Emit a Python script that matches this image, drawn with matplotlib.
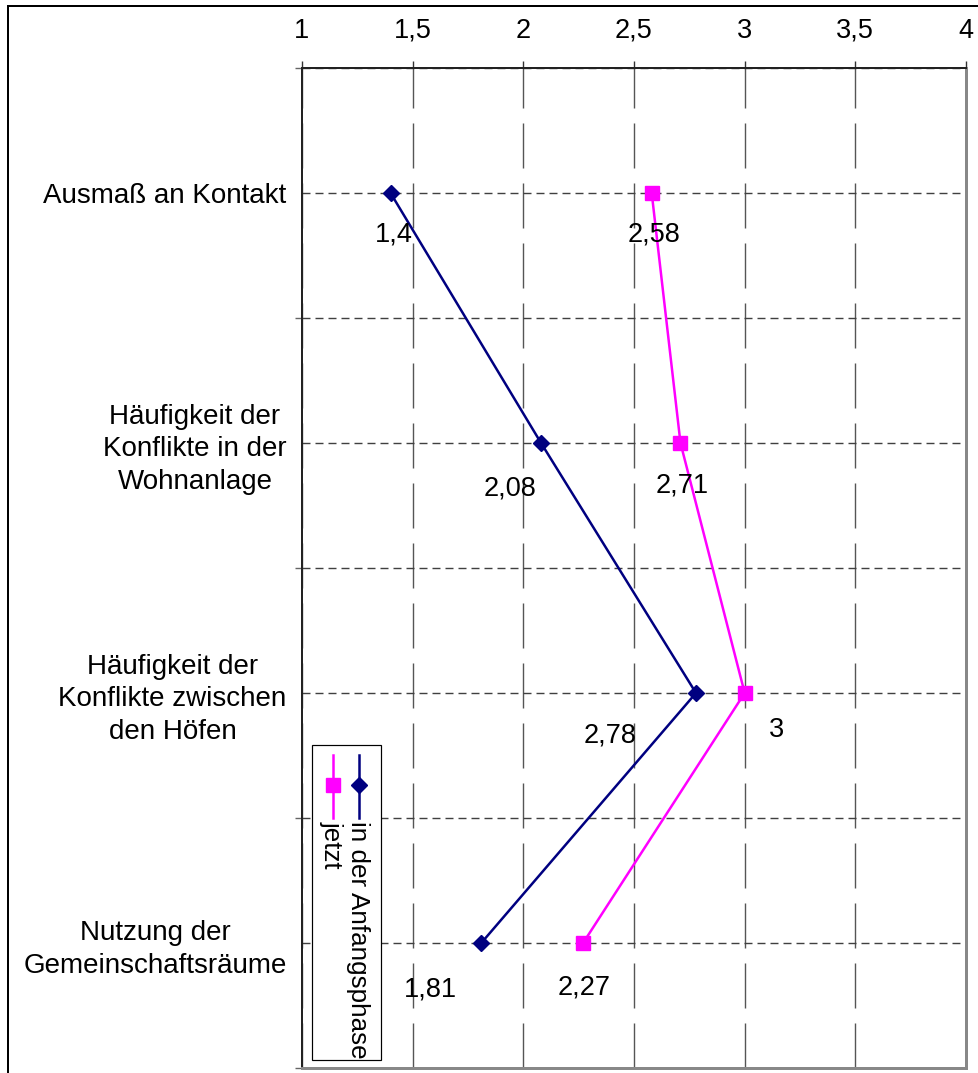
import matplotlib
matplotlib.use("Agg")
import matplotlib.pyplot as plt
from matplotlib.lines import Line2D
from matplotlib.patches import Rectangle

# --- data -------------------------------------------------------------
categories = [
    "Ausmaß an Kontakt",
    "Häufigkeit der\nKonflikte in der\nWohnanlage",
    "Häufigkeit der\nKonflikte zwischen\nden Höfen",
    "Nutzung der\nGemeinschaftsräume",
]
anfang_values = [1.4, 2.08, 2.78, 1.81]
jetzt_values = [2.58, 2.71, 3.0, 2.27]
series_names = ["in der Anfangsphase", "jetzt"]
x_ticks = [1, 1.5, 2, 2.5, 3, 3.5, 4]

# label offsets from each point, in pixels (dx right, dy down)
anfang_offsets = [(3, 49), (-31, 53), (-86, 49), (-51, 54)]
jetzt_offsets = [(2, 49), (2, 50), (32, 44), (1, 52)]

# --- style ------------------------------------------------------------
W, H, DPI = 979, 1073, 100
PX = 72.0 / DPI  # points per pixel
plt.rcParams["font.family"] = ["Liberation Sans", "DejaVu Sans"]
plt.rcParams["lines.scale_dashes"] = False

NAVY = "#000080"
MAGENTA = "#FF00FF"
FS = 19.5
FS_CAT = 20.0
FS_LEG = 18.7

fig = plt.figure(figsize=(W / DPI, H / DPI), dpi=DPI)
ax = fig.add_axes([302 / W, 1 - 1068 / H, (966 - 302) / W, (1068 - 68) / H])

ypos = list(range(len(categories)))

ax.plot(anfang_values, ypos, color=NAVY, lw=1.8, marker="D", ms=8.5,
        mfc=NAVY, mec=NAVY, zorder=3)
ax.plot(jetzt_values, ypos, color=MAGENTA, lw=1.8, marker="s", ms=10,
        mfc=MAGENTA, mec=MAGENTA, zorder=3)


def fmt(v):
    s = f"{v:g}"
    return s.replace(".", ",")


for vals, offs in ((anfang_values, anfang_offsets), (jetzt_values, jetzt_offsets)):
    for v, y, (dx, dy) in zip(vals, ypos, offs):
        ax.annotate(fmt(v), (v, y), xytext=(dx * PX, -dy * PX),
                    textcoords="offset points", ha="center", va="baseline",
                    fontsize=FS, color="black", zorder=4)

# axes limits: categories run top to bottom
ax.set_xlim(1, 4)
ax.set_ylim(len(categories) - 0.5, -0.5)

# value axis on top
ax.xaxis.tick_top()
ax.set_xticks(x_ticks, [fmt(t) for t in x_ticks])
ax.tick_params(axis="x", which="major", direction="out", length=7 * PX,
               width=1, color="#333333", pad=12.5, labelsize=FS)

# category axis: boundary ticks + centred labels
ax.set_yticks([i - 0.5 for i in range(len(categories) + 1)])
ax.set_yticklabels([])
ax.set_yticks(ypos, categories, minor=True)
ax.tick_params(axis="y", which="major", direction="out", length=7 * PX,
               width=1, color="#666666")
ax.tick_params(axis="y", which="minor", length=0, pad=11, labelsize=FS_CAT)
for lbl in ax.get_yticklabels(minor=True):
    lbl.set_multialignment("center")
    lbl.set_linespacing(1.33)

# grid lines
ax.set_axisbelow(True)
ax.grid(axis="x", which="major", color="#555555", lw=1 * PX * 1.4,
        dashes=(45 * PX, 15 * PX))
ax.grid(axis="y", which="both", color="#404040", lw=1 * PX * 1.4,
        dashes=(8 * PX, 5 * PX))

# spines
ax.spines["left"].set_color("#222222")
ax.spines["left"].set_linewidth(2 * PX)
ax.spines["top"].set_color("#222222")
ax.spines["top"].set_linewidth(2 * PX)
ax.spines["right"].set_color("#888888")
ax.spines["right"].set_linewidth(3 * PX)
ax.spines["bottom"].set_color("#888888")
ax.spines["bottom"].set_linewidth(3 * PX)


# --- rotated legend ---------------------------------------------------
def fx(x):
    return x / W


def fy(y):
    return 1 - y / H


fig.add_artist(Rectangle((fx(312), fy(1060)), fx(381) - fx(312), fy(745) - fy(1060),
                         transform=fig.transFigure, fill=True, facecolor="white",
                         edgecolor="black", lw=1 * PX * 1.2, zorder=5))
legend_items = [
    (series_names[0], NAVY, "D", 8.5, 359),
    (series_names[1], MAGENTA, "s", 10, 333),
]
for name, col, mk, ms, xc in legend_items:
    fig.add_artist(Line2D([fx(xc), fx(xc)], [fy(755), fy(818)], color=col, lw=1.8,
                          transform=fig.transFigure, zorder=6))
    fig.add_artist(Line2D([fx(xc)], [fy(785)], color=col, marker=mk, ms=ms,
                          mfc=col, mec=col, transform=fig.transFigure, zorder=7))
    fig.text(fx(xc - 1), fy(821), name, rotation=-90, ha="center", va="top",
             fontsize=FS_LEG, color="black", zorder=7)

# outer chart border
fig.add_artist(Rectangle((fx(8), fy(1200)), fx(1100) - fx(8), fy(6) - fy(1200),
                         transform=fig.transFigure, fill=False, edgecolor="black",
                         lw=2 * PX, zorder=10))

fig.savefig("out.png", dpi=DPI)
